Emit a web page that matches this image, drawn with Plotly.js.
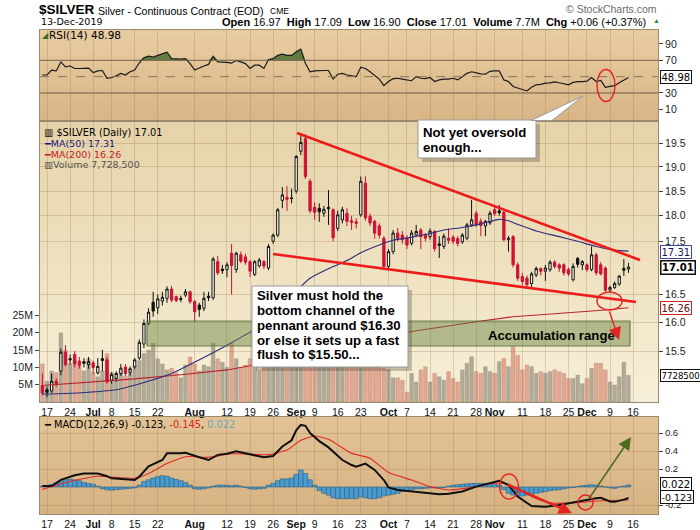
<!DOCTYPE html>
<html><head><meta charset="utf-8">
<script src="https://cdn.plot.ly/plotly-3.0.1.min.js"></script>
<style>html,body{margin:0;padding:0;background:#fff;}#chart{width:700px;height:530px;}</style>
</head><body><div id="chart"></div>
<script>
// ---------- DATA (trading-day index 0 = 14-Jun-2019 ... 127 = 13-Dec-2019) ----------
const opens  = [14.92,14.85,14.83,14.99,15.16,15.48,15.37,15.44,15.33,15.32,15.27,15.30,15.13,15.37,15.35,15.01,15.04,15.12,15.23,15.14,
15.23,15.38,15.62,15.98,16.36,16.26,16.38,16.43,16.60,16.46,16.43,16.49,16.55,16.37,16.31,16.25,16.47,16.44,17.11,16.97,
16.96,17.27,16.96,17.24,17.20,17.11,16.87,17.03,17.11,16.99,17.50,17.62,18.31,18.37,18.36,18.50,19.33,19.60,18.70,18.17,
18.15,18.05,18.17,18.12,17.75,17.92,18.05,17.90,17.88,18.02,18.66,17.99,17.89,17.80,17.56,17.02,17.30,17.66,17.62,17.56,
17.46,17.62,17.72,17.62,17.59,17.69,17.45,17.40,17.56,17.58,17.55,17.49,17.56,17.82,18.05,17.89,17.80,17.86,18.12,18.10,
18.07,17.53,17.59,17.05,16.83,16.80,16.70,16.86,16.98,16.93,16.96,17.10,17.05,17.05,16.96,16.77,17.17,17.05,17.05,16.96,
17.24,17.05,16.99,16.58,16.63,16.69,16.98,16.97];
const highs  = [15.12,14.90,15.12,15.04,15.54,15.60,15.44,15.50,15.40,15.38,15.40,15.34,15.38,15.52,15.40,15.14,15.16,15.28,15.28,15.24,
15.38,15.70,16.05,16.25,16.55,16.50,16.55,16.65,16.66,16.48,16.48,16.60,16.57,16.40,16.35,16.55,16.55,17.20,17.22,17.05,
17.10,17.45,17.30,17.30,17.26,17.14,17.14,17.18,17.14,17.45,17.65,18.16,18.58,18.60,18.55,19.25,19.73,19.70,18.75,18.27,
18.25,18.20,18.52,18.15,18.10,18.18,18.15,18.00,17.95,18.80,18.80,18.05,17.92,17.85,17.60,17.35,17.72,17.76,17.70,17.62,
17.72,17.82,17.76,17.66,17.75,17.72,17.60,17.65,17.75,17.62,17.60,17.66,17.86,18.32,18.10,17.95,17.92,18.10,18.20,18.22,
18.10,17.60,17.62,17.10,16.90,16.85,16.92,17.02,17.00,17.05,17.14,17.14,17.08,17.08,17.00,17.08,17.20,17.14,17.08,17.40,
17.28,17.10,17.02,16.66,16.74,16.86,17.16,17.09];
const lows   = [14.76,14.73,14.80,14.90,15.09,15.24,15.27,15.22,15.20,15.22,15.20,15.12,15.10,15.16,14.95,14.95,14.98,15.08,15.08,15.08,
15.20,15.35,15.55,15.95,16.10,16.15,16.30,16.35,16.36,16.36,16.36,16.45,16.33,16.01,16.10,16.20,16.38,16.40,16.86,16.88,
16.82,16.50,16.90,17.08,17.05,16.82,16.84,17.00,16.97,16.95,17.45,17.58,18.15,18.10,18.25,18.45,19.25,18.75,18.05,17.92,
17.88,17.98,17.82,17.50,17.70,17.85,17.80,17.72,17.75,17.98,17.90,17.80,17.55,17.55,16.95,16.95,17.25,17.50,17.45,17.35,
17.42,17.58,17.35,17.50,17.53,17.30,17.18,17.35,17.45,17.45,17.40,17.45,17.52,17.78,17.78,17.60,17.60,17.82,18.00,18.00,
17.50,17.30,17.00,16.75,16.68,16.64,16.64,16.82,16.85,16.75,16.92,16.98,16.92,16.85,16.84,16.74,17.00,16.95,16.92,16.93,
16.85,16.85,16.55,16.54,16.60,16.66,16.84,16.90];
const closes = [14.80,14.81,14.99,14.95,15.48,15.27,15.35,15.28,15.26,15.29,15.32,15.22,15.24,15.34,14.98,15.10,15.12,15.21,15.12,15.20,
15.35,15.65,15.98,16.18,16.20,16.42,16.45,16.60,16.40,16.39,16.41,16.55,16.37,16.19,16.23,16.43,16.44,17.16,16.90,16.94,
17.05,17.04,17.27,17.12,17.10,16.93,17.11,17.14,17.03,17.40,17.62,18.12,18.42,18.33,18.35,19.22,19.52,18.80,18.10,18.07,
18.08,18.13,18.14,17.57,18.02,18.12,17.89,17.87,17.85,18.70,17.96,17.86,17.66,17.62,17.02,17.30,17.66,17.56,17.53,17.43,
17.66,17.69,17.59,17.56,17.70,17.36,17.42,17.60,17.52,17.50,17.46,17.62,17.82,17.92,17.82,17.81,17.89,18.05,18.04,18.06,
17.53,17.56,17.05,16.80,16.74,16.68,16.88,16.98,16.93,16.99,17.10,17.02,16.99,16.90,16.88,17.02,17.06,17.11,16.96,17.24,
16.90,16.88,16.58,16.63,16.70,16.84,16.95,17.01];
const volumeM = [11,6,9,8.5,20,15,11,12,10.5,9,12.5,8.5,7.3,9,14,8.5,7,9,7.5,8.5,
10.5,12,14,15,17,12.5,11,9.3,9.8,8.5,7,10.7,13,11,9,10.7,10.2,17,12.5,11.5,
10,17,12.5,10,10.7,12.5,17,9,10.7,12.5,14,18,17,14,13,22,25,24,20,15,
14,12,14,16,12,11,12,11,12,16,15,12,13,12,9.7,9.3,7,7,6.3,2.9,
8.3,5.8,9.3,10.2,5.8,8.3,7.3,6.3,8.8,6.8,5.8,9.3,11.2,13.1,8.8,8.3,10.2,8.8,8.3,11.7,
12.6,10.2,16,13.5,9.3,10.7,10.2,8.3,8.8,8.3,8.8,9.3,8.8,8.3,6.8,6.8,7.8,5.3,6.8,9.7,
11.2,11.2,9.3,5.8,4.9,7.3,11.5,7.7285];
const ma50Idx = [0,5,10,16,22,28,34,40,46,52,58,62,66,69,73,76,80,84,87,91,95,99,101,103,107,112,116,120,124,127];
const ma50Val = [14.78,14.79,14.81,14.85,14.97,15.12,15.35,15.60,15.88,16.32,16.80,16.98,17.13,17.28,17.43,17.52,17.58,17.65,17.72,17.77,17.84,17.93,17.90,17.83,17.70,17.59,17.50,17.40,17.33,17.31];
const ma200Idx = [0,10,20,30,40,45,55,65,72,80,87,94,102,109,116,122,127];
const ma200Val = [14.92,14.97,15.03,15.10,15.18,15.25,15.42,15.60,15.72,15.84,15.93,16.01,16.10,16.14,16.19,16.22,16.26];
const rsi = [52,52,58,57,68,62,63,60,60,60.5,60.5,55,57,57.5,48,49,51,54,52,56,
58,67,73,75,74,76,78,80,72,71.5,71.5,72,66,58,61,63,65,75,68,68,
67.5,66.5,70,68,66,60,64,64,60,71,72,76,77.5,76,76,80.5,83.8,66,56,57,
57.5,57.5,57.5,47,53,54,52,51,50,61.5,60,56,52,47,39,44,47.5,48,47,46,
45,50,48,47.5,49,44,46,47,47,48,46,50,54,56,54.5,53.5,53,56.5,57,57,
46,44,38,36,34,32.5,37,40,40.5,42,42.5,43.5,42.5,41.5,40,43,44,44,44.5,49,
44,45.5,37,38,39,42.5,46,48.98];
const macdIdx = [0,2,4,7,9,12,14,15,18,20,21,23,26,27,30,31,34,36,38,40,42,44,48,50,52,54,55,56,57,58,60,62,64,65,67,68,70,72,74,75,77,80,83,86,88,91,94,97,99,101,103,106,109,112,114,117,120,121,122,123,124,125,126,127];
const macdVal = [0.01,0.01,0.08,0.13,0.15,0.15,0.12,0.096,0.085,0.078,0.115,0.23,0.30,0.374,0.374,0.38,0.33,0.30,0.357,0.37,0.396,0.374,0.33,0.345,0.45,0.52,0.63,0.69,0.68,0.60,0.51,0.44,0.34,0.30,0.244,0.226,0.26,0.19,0.078,-0.004,-0.033,-0.05,-0.06,-0.08,-0.074,-0.05,0.004,0.048,0.07,0.022,-0.107,-0.211,-0.219,-0.20,-0.18,-0.152,-0.126,-0.12,-0.14,-0.16,-0.165,-0.155,-0.14,-0.123];
const sigIdx = [0,5,12,20,23,27,31,36,41,49,53,56,59,62,67,71,75,80,84,88,93,97,99,101,103,105,108,111,114,117,120,123,127];
const sigVal = [-0.026,0.048,0.12,0.096,0.15,0.26,0.337,0.33,0.37,0.36,0.41,0.52,0.567,0.53,0.374,0.32,0.16,0.078,0.004,-0.033,-0.004,0.033,0.045,0.03,-0.018,-0.078,-0.15,-0.18,-0.18,-0.17,-0.155,-0.15,-0.145];
const hist = [0.01,0.015,0.03,0.045,0.06,0.08,0.085,0.08,0.07,0.05,0.04,0.03,0.01,-0.02,-0.03,-0.035,-0.03,-0.025,-0.02,-0.015,
-0.01,0.02,0.06,0.08,0.1,0.115,0.125,0.12,0.1,0.085,0.07,0.05,0.02,-0.02,-0.025,-0.02,-0.01,0.01,0.02,0.02,
0.02,0.015,0.02,0.01,-0.005,-0.02,-0.025,-0.02,-0.015,0.02,0.04,0.07,0.09,0.09,0.1,0.14,0.19,0.15,0.08,0.02,
-0.04,-0.07,-0.09,-0.12,-0.13,-0.13,-0.13,-0.13,-0.13,-0.11,-0.12,-0.13,-0.13,-0.12,-0.1,-0.09,-0.08,-0.07,-0.05,-0.04,
-0.03,-0.02,-0.02,-0.015,-0.01,-0.01,-0.01,-0.005,0.01,0.02,0.025,0.03,0.035,0.04,0.04,0.04,0.04,0.04,0.035,0.02,
-0.03,-0.07,-0.09,-0.1,-0.1,-0.09,-0.08,-0.07,-0.06,-0.05,-0.04,-0.035,-0.03,-0.02,-0.01,-0.005,0.005,0.015,0.02,0.025,
0.02,0.01,0.0,-0.01,-0.015,0.0,0.01,0.022];
const tickIdx = [1,6,11,15,20,25,33,40,45,50,55,59,64,69,75,79,84,89,94,98,104,109,114,118,123,128];
const tickLabels = ['17','24','Jul','8','15','22','Aug','12','19','26','Sep','9','16','23','Oct','7','14','21','28','Nov','11','18','25','Dec','9','16'];
const monthNames = ['Jul','Aug','Sep','Oct','Nov','Dec'];
const priceTicks = [15.5,16,16.5,17.5,18,18.5,19,19.5];
const priceTickText = ['15.5','16.0','16.5','17.5','18.0','18.5','19.0','19.5'];
const rsiTicks = [10,30,70,90];
const macdTicks = [-0.2,0.2,0.4,0.6];
const macdTickText = ['-0.2','0.2','0.4','0.6'];
const volTicks = [5,10,15,20,25];
const volTickText = ['5M','10M','15M','20M','25M'];

// ---------- helpers ----------
const N = closes.length;
const idx = Array.from({length:N},(_,i)=>i);
const PX = x => (x-40)/618;          // pixel -> paper
const PY = y => (514-y)/484;
const tickText = tickLabels.map(t => monthNames.includes(t) ? '<b>'+t+'</b>' : t);
const XR = [-0.52, 133.4];
const F = 'Liberation Sans, Arial, sans-serif';
const FV = 'DejaVu Sans, Verdana, sans-serif';

const blk={x:[],o:[],h:[],l:[],c:[]}, red={x:[],o:[],h:[],l:[],c:[]};
const volCol=[];
for(let i=0;i<N;i++){
  const up = i>0 && closes[i]>=closes[i-1];
  const t = up?blk:red;
  t.x.push(i);t.o.push(opens[i]);t.h.push(highs[i]);t.l.push(lows[i]);t.c.push(closes[i]);
  volCol.push(up?'rgba(120,115,100,0.55)':'rgba(215,105,85,0.55)');
}

const traces = [];
traces.push({type:'bar',x:idx,y:volumeM,xaxis:'x2',yaxis:'y2',width:0.82,
  marker:{color:volCol,line:{color:'rgba(110,90,80,0.35)',width:0.5}},hoverinfo:'skip',showlegend:false});
traces.push({type:'scatter',mode:'lines',x:ma200Idx,y:ma200Val,xaxis:'x2',yaxis:'y4',line:{color:'#b8232a',width:1.1},hoverinfo:'skip',showlegend:false});
traces.push({type:'scatter',mode:'lines',x:ma50Idx,y:ma50Val,xaxis:'x2',yaxis:'y4',line:{color:'#2c2c7c',width:1.1,shape:'spline',smoothing:0.6},hoverinfo:'skip',showlegend:false});
traces.push({type:'candlestick',x:blk.x,open:blk.o,high:blk.h,low:blk.l,close:blk.c,xaxis:'x2',yaxis:'y4',whiskerwidth:0,
  increasing:{line:{color:'#111',width:1},fillcolor:'#fffdf3'},decreasing:{line:{color:'#111',width:1},fillcolor:'#111'},hoverinfo:'skip',showlegend:false});
traces.push({type:'candlestick',x:red.x,open:red.o,high:red.h,low:red.l,close:red.c,xaxis:'x2',yaxis:'y4',whiskerwidth:0,
  increasing:{line:{color:'#cc1030',width:1},fillcolor:'#fffdf3'},decreasing:{line:{color:'#cc1030',width:1},fillcolor:'#d0143a'},hoverinfo:'skip',showlegend:false});
traces.push({type:'scatter',mode:'lines',x:idx,y:idx.map(()=>70),xaxis:'x',yaxis:'y',line:{width:0,color:'rgba(0,0,0,0)'},hoverinfo:'skip',showlegend:false});
traces.push({type:'scatter',mode:'lines',x:idx,y:rsi.map(v=>Math.max(v,70)),xaxis:'x',yaxis:'y',fill:'tonexty',fillcolor:'rgba(78,110,48,0.85)',line:{width:0,color:'rgba(0,0,0,0)'},hoverinfo:'skip',showlegend:false});
traces.push({type:'scatter',mode:'lines',x:idx,y:rsi,xaxis:'x',yaxis:'y',line:{color:'#1a1a1a',width:1.2},hoverinfo:'skip',showlegend:false});
traces.push({type:'bar',x:idx,y:hist,xaxis:'x3',yaxis:'y3',width:1,marker:{color:'#4a9cd0',line:{color:'#2e5f7e',width:0.6}},hoverinfo:'skip',showlegend:false});
traces.push({type:'scatter',mode:'lines',x:sigIdx,y:sigVal,xaxis:'x3',yaxis:'y3',line:{color:'#e02a2a',width:1.1,shape:'spline',smoothing:0.5},hoverinfo:'skip',showlegend:false});
traces.push({type:'scatter',mode:'lines',x:macdIdx,y:macdVal,xaxis:'x3',yaxis:'y3',line:{color:'#111',width:2},hoverinfo:'skip',showlegend:false});

// ---------- shapes ----------
const shapes=[];
function hexMix(a,b,t){const pa=[1,3,5].map(k=>parseInt(a.substr(k,2),16)),pb=[1,3,5].map(k=>parseInt(b.substr(k,2),16));
  return 'rgb('+pa.map((v,k)=>Math.round(v+(pb[k]-v)*t)).join(',')+')';}
function grad(y0,y1,cTop,cBot,n){for(let k=0;k<n;k++){const a=y0+(y1-y0)*k/n,b=y0+(y1-y0)*(k+1)/n+0.6;
  shapes.push({type:'rect',xref:'paper',yref:'paper',x0:0,x1:1,y0:PY(b),y1:PY(a),fillcolor:hexMix(cTop,cBot,k/(n-1)),line:{width:0},layer:'below'});}}
grad(30,119.5,'#e7cca1','#d9b687',14);
grad(122,402,'#e6d3a9','#f6efd7',24);
grad(417,514,'#e2c396','#d6b282',14);
shapes.push({type:'line',xref:'paper',yref:'y',x0:0,x1:1,y0:70,y1:70,line:{color:'#6e5f4c',width:1}});
shapes.push({type:'line',xref:'paper',yref:'y',x0:0,x1:1,y0:30,y1:30,line:{color:'#6e5f4c',width:1}});
shapes.push({type:'line',xref:'paper',yref:'y',x0:0,x1:1,y0:50,y1:50,line:{color:'#8a765a',width:1,dash:'dash'}});
shapes.push({type:'line',xref:'paper',yref:'paper',x0:PX(297),y0:PY(133),x1:PX(640),y1:PY(260),line:{color:'#ee1b1b',width:2.6}});
shapes.push({type:'line',xref:'paper',yref:'paper',x0:PX(273),y0:PY(254),x1:PX(636),y1:PY(302),line:{color:'#ee1b1b',width:2.6}});
shapes.push({type:'rect',xref:'paper',yref:'paper',x0:PX(147),x1:PX(630),y0:PY(346),y1:PY(321),fillcolor:'rgba(100,128,62,0.45)',line:{color:'rgba(85,105,55,0.8)',width:1.2}});
function box(x0,y0,x1,y1){
  shapes.push({type:'rect',xref:'paper',yref:'paper',x0:PX(x0+4),x1:PX(x1+4),y0:PY(y1+4),y1:PY(y0+4),fillcolor:'rgba(60,50,40,0.28)',line:{width:0}});
  shapes.push({type:'rect',xref:'paper',yref:'paper',x0:PX(x0),x1:PX(x1),y0:PY(y1),y1:PY(y0),fillcolor:'#ffffff',line:{color:'#9a9a9a',width:1}});
}
box(252,286,408,367);
box(418,120,536,158);
shapes.push({type:'path',xref:'paper',yref:'paper',
  path:`M ${PX(531)} ${PY(120.5)} L ${PX(583)} ${PY(96)} L ${PX(552)} ${PY(120.5)} Z`,fillcolor:'#ffffff',line:{color:'#9a9a9a',width:1}});
function ell(cx,cy,rx,ry){shapes.push({type:'circle',xref:'paper',yref:'paper',x0:PX(cx-rx),x1:PX(cx+rx),y0:PY(cy+ry),y1:PY(cy-ry),line:{color:'#e5231f',width:1.4}});}
ell(606,85.5,9,16);
ell(609.5,301,12.5,9);
ell(509,486.5,9.5,12.5);
ell(585.5,502.5,7.5,7.5);

// ---------- annotations ----------
const ann=[];
function txt(x,y,t,o){ann.push(Object.assign({xref:'paper',yref:'paper',x:PX(x),y:PY(y),text:t,showarrow:false,xanchor:'left',yanchor:'middle',font:{family:F,size:11,color:'#000'}},o||{}));}
txt(37,10,'<b>$SILVER</b>',{font:{family:F,size:13.5,color:'#000'}});
txt(96,10.5,'Silver - Continuous Contract (EOD)',{font:{family:F,size:10.6,color:'#000'}});
txt(268,11,'CME',{font:{family:F,size:8.5,color:'#000'}});
txt(39,21.5,'13-Dec-2019',{font:{family:FV,size:9.5,color:'#000'}});
txt(648,21.5,'<b>Open</b> 16.97  <b>High</b> 17.09  <b>Low</b> 16.90  <b>Close</b> 17.01  <b>Volume</b> 7.7M  <b>Chg</b> +0.06 (+0.37%)',{xanchor:'right',font:{family:F,size:11,color:'#000'}});
txt(651,21,'▲',{font:{family:F,size:7,color:'#2f8f2f'}});
txt(659,8.5,'© StockCharts.com',{xanchor:'right',font:{family:F,size:10.5,color:'#6b6b6b'}});
txt(40,35,'◢',{font:{family:FV,size:8,color:'#3d6b2a'}});
txt(47,35,'RSI(14) 48.98',{font:{family:FV,size:10.5,color:'#000'}});
txt(42,132,'<b>▥</b> $SILVER (Daily) 17.01',{font:{family:FV,size:9.8,color:'#000'}});
txt(42,143,'━MA(50) 17.31',{font:{family:FV,size:9.5,color:'#1c1c80'}});
txt(42,154,'━MA(200) 16.26',{font:{family:FV,size:9.5,color:'#c41e2a'}});
txt(42,164.5,'▥Volume 7,728,500',{font:{family:FV,size:9.5,color:'#555'}});
txt(42,424.5,'━ MACD(12,26,9) -0.123, <span style="color:#e02020">-0.145</span>, <span style="color:#6aa6b8">0.022</span>',{font:{family:FV,size:9.8,color:'#000'}});
const B={family:F,size:13.2,color:'#000'};
['Not yet oversold','enough...'].forEach((t,k)=>txt(421,132.5+k*15,'<b>'+t+'</b>',{font:B}));
['Silver must hold the','bottom channel of the','pennant around $16.30','or else it sets up a fast','flush to $15.50...'].forEach((t,k)=>txt(255,295+k*15,'<b>'+t+'</b>',{font:B}));
txt(486,335,'<b>Accumulation range</b>',{font:B});
function arrow(tx,ty,hx,hy,col,w,size){ann.push({xref:'paper',yref:'paper',x:PX(hx),y:PY(hy),ax:tx-hx,ay:ty-hy,text:'',showarrow:true,arrowhead:2,arrowsize:size,arrowwidth:w,arrowcolor:col});}
arrow(609,310,619,340,'#e5231f',1.4,1.8);
arrow(506,484,572,513,'#e5231f',2.4,1.1);
arrow(588,500,631,437,'#4b6b1e',1.5,1.7);
function tag(y,t,o){ann.push(Object.assign({xref:'paper',yref:'paper',x:PX(660),y:PY(y),text:t,showarrow:false,xanchor:'left',yanchor:'middle',
  bgcolor:'#ffffff',bordercolor:'#111',borderwidth:1,borderpad:0.5,font:{family:FV,size:10,color:'#000'}},o||{}));}
tag(77,'48.98');
tag(252,'17.31',{bordercolor:'#3c4a9a',font:{family:FV,size:10,color:'#1a1a5a'}});
tag(267.5,'<b>17.01</b>',{borderwidth:1.5});
tag(308,'16.26',{bordercolor:'#cc2020',font:{family:FV,size:10,color:'#5a1010'}});
tag(375.5,'7728500',{font:{family:FV,size:8.6,color:'#000'}});
tag(484,'0.022');
tag(496.5,'-0.123',{font:{family:FV,size:9.5,color:'#000'}});

// ---------- layout ----------
const grid='rgba(150,120,80,0.28)';
const xBase={range:XR,tickvals:tickIdx,ticktext:tickText,showgrid:true,gridcolor:grid,gridwidth:1,zeroline:false,
  showline:true,mirror:true,linecolor:'#9c8a6c',linewidth:1,ticks:'',fixedrange:true,
  tickfont:{family:F,size:10.5,color:'#111'}};
const yTick={ticks:'outside',ticklen:4,tickcolor:'#444',tickfont:{family:F,size:10.5,color:'#222'},fixedrange:true,zeroline:false};
const layout={
  width:700,height:530,autosize:false,
  margin:{l:40,r:42,t:30,b:16,pad:0},
  paper_bgcolor:'#ffffff',plot_bgcolor:'rgba(0,0,0,0)',
  showlegend:false,bargap:0,
  xaxis:Object.assign({},xBase,{anchor:'y',showticklabels:false}),
  xaxis2:Object.assign({},xBase,{anchor:'y2',showticklabels:true,rangeslider:{visible:false}}),
  xaxis3:Object.assign({},xBase,{anchor:'y3',showticklabels:true,rangeslider:{visible:false}}),
  yaxis:Object.assign({},yTick,{domain:[PY(119.5),1],range:[-2.45,107.1],side:'right',tickvals:rsiTicks,showgrid:false,
    showline:true,mirror:true,linecolor:'#9c8a6c'}),
  yaxis2:Object.assign({},yTick,{domain:[PY(402),PY(122)],range:[0,80.9],side:'left',tickvals:volTicks,ticktext:volTickText,
    showgrid:false,showline:true,mirror:true,linecolor:'#9c8a6c'}),
  yaxis4:Object.assign({},yTick,{overlaying:'y2',anchor:'x2',type:'log',range:[Math.log10(14.651),Math.log10(19.967)],side:'right',
    tickvals:priceTicks,ticktext:priceTickText,showgrid:true,gridcolor:grid}),
  yaxis3:Object.assign({},yTick,{domain:[0,PY(417)],range:[-0.3,0.778],side:'right',tickvals:macdTicks,ticktext:macdTickText,
    showgrid:true,gridcolor:grid,showline:true,mirror:true,linecolor:'#9c8a6c',tickfont:{family:F,size:9.5,color:'#222'}}),
  shapes:shapes,annotations:ann
};
Plotly.newPlot('chart',traces,layout,{staticPlot:true,displayModeBar:false});
</script></body></html>
